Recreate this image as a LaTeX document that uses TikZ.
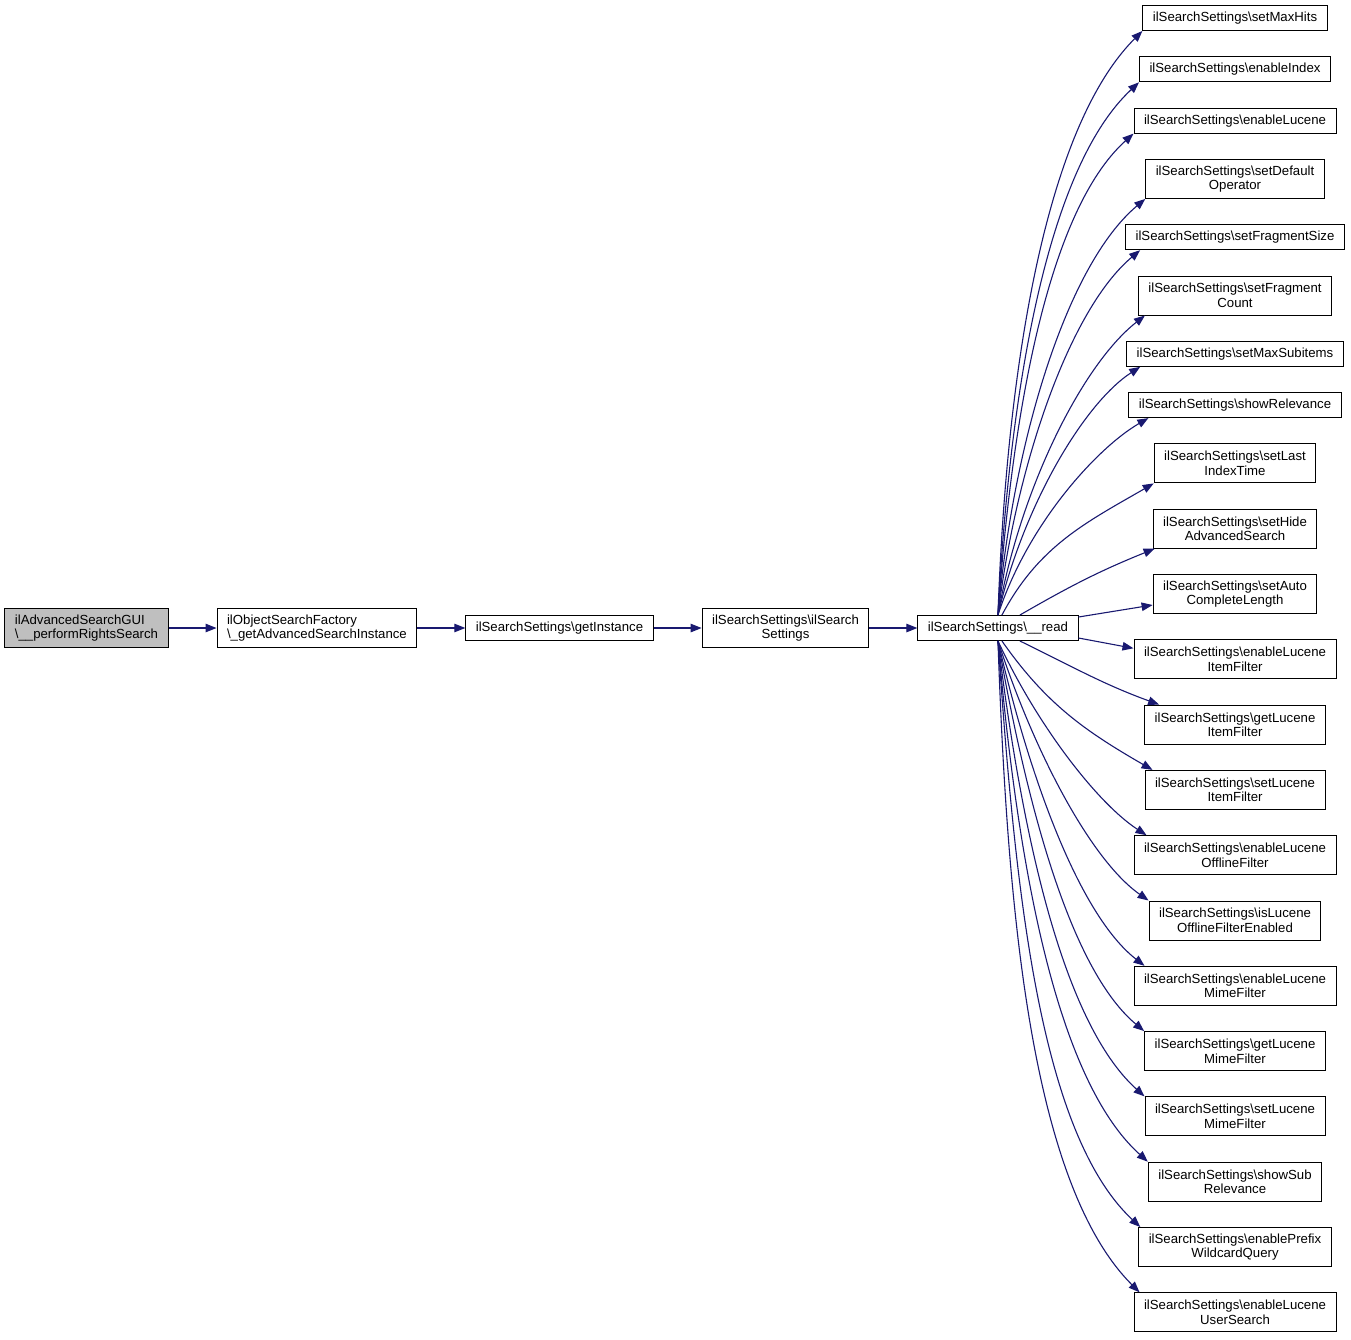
\documentclass[tikz,border=0pt]{standalone}
\usepackage{fontspec}
\setmainfont{Liberation Sans}
\usepackage{tikz}
\usetikzlibrary{positioning, arrows.meta}
\definecolor{callblue}{HTML}{191970}
\definecolor{rootgray}{HTML}{BFBFBF}

\begin{document}
\begin{tikzpicture}[x=1pt, y=1pt,
  fn/.style={rectangle, draw=black, line width=1pt, inner xsep=10pt,
    inner ysep=3pt, minimum height=25pt, align=center,
    font=\fontsize{13.2}{14.5}\selectfont},
  fntwo/.style={fn, minimum height=39pt},
  root/.style={fntwo, fill=rootgray, align=left},
  call/.style={-{Triangle[length=11pt, width=8.5pt]}, line width=1.1pt, draw=callblue}
]
  \useasboundingbox (0,0) rectangle (1351,-1339);

  % call chain
  \node[root] (n0) at (86.5,-628) {ilAdvancedSearchGUI\\\textbackslash\_\_performRightsSearch};
  \node[fntwo, align=left, right=48pt of n0] (n1) {ilObjectSearchFactory\\\textbackslash\_getAdvancedSearchInstance};
  \node[fn, right=48pt of n1] (n2) {ilSearchSettings\textbackslash getInstance};
  \node[fntwo, right=48pt of n2] (n3) {ilSearchSettings\textbackslash ilSearch\\Settings};
  \node[fn, right=48pt of n3] (n4) {ilSearchSettings\textbackslash\_\_read};

  % callees of __read
  \node[fn] (r1) at (1235,-18) {ilSearchSettings\textbackslash setMaxHits};
  \node[fn, below=25.3pt of r1] (r2) {ilSearchSettings\textbackslash enableIndex};
  \node[fn, below=25.3pt of r2] (r3) {ilSearchSettings\textbackslash enableLucene};
  \node[fntwo, below=25.3pt of r3] (r4) {ilSearchSettings\textbackslash setDefault\\Operator};
  \node[fn, below=25.3pt of r4] (r5) {ilSearchSettings\textbackslash setFragmentSize};
  \node[fntwo, below=25.3pt of r5] (r6) {ilSearchSettings\textbackslash setFragment\\Count};
  \node[fn, below=25.3pt of r6] (r7) {ilSearchSettings\textbackslash setMaxSubitems};
  \node[fn, below=25.3pt of r7] (r8) {ilSearchSettings\textbackslash showRelevance};
  \node[fntwo, below=25.3pt of r8] (r9) {ilSearchSettings\textbackslash setLast\\IndexTime};
  \node[fntwo, below=25.3pt of r9] (r10) {ilSearchSettings\textbackslash setHide\\AdvancedSearch};
  \node[fntwo, below=25.3pt of r10] (r11) {ilSearchSettings\textbackslash setAuto\\CompleteLength};
  \node[fntwo, below=25.3pt of r11] (r12) {ilSearchSettings\textbackslash enableLucene\\ItemFilter};
  \node[fntwo, below=25.3pt of r12] (r13) {ilSearchSettings\textbackslash getLucene\\ItemFilter};
  \node[fntwo, below=25.3pt of r13] (r14) {ilSearchSettings\textbackslash setLucene\\ItemFilter};
  \node[fntwo, below=25.3pt of r14] (r15) {ilSearchSettings\textbackslash enableLucene\\OfflineFilter};
  \node[fntwo, below=25.3pt of r15] (r16) {ilSearchSettings\textbackslash isLucene\\OfflineFilterEnabled};
  \node[fntwo, below=25.3pt of r16] (r17) {ilSearchSettings\textbackslash enableLucene\\MimeFilter};
  \node[fntwo, below=25.3pt of r17] (r18) {ilSearchSettings\textbackslash getLucene\\MimeFilter};
  \node[fntwo, below=25.3pt of r18] (r19) {ilSearchSettings\textbackslash setLucene\\MimeFilter};
  \node[fntwo, below=25.3pt of r19] (r20) {ilSearchSettings\textbackslash showSub\\Relevance};
  \node[fntwo, below=25.3pt of r20] (r21) {ilSearchSettings\textbackslash enablePrefix\\WildcardQuery};
  \node[fntwo, below=25.3pt of r21] (r22) {ilSearchSettings\textbackslash enableLucene\\UserSearch};

  \draw[call] (n0) -- (n1);
  \draw[call] (n1) -- (n2);
  \draw[call] (n2) -- (n3);
  \draw[call] (n3) -- (n4);

  % upper fan
  \draw[call] (n4.north) to[out=88, in=-135, in looseness=0.6] (r1.south west);
  \draw[call] (n4.north) to[out=87, in=-137, in looseness=0.6] (r2.south west);
  \draw[call] (n4.north) to[out=86, in=-138, in looseness=0.6] (r3.south west);
  \draw[call] (n4.north) to[out=85, in=-140, in looseness=0.6] (r4.south west);
  \draw[call] (n4.north) to[out=83, in=-140, in looseness=0.6] ([xshift=15pt]r5.south west);
  \draw[call] (n4.north) to[out=80, in=-142, in looseness=0.6] ([xshift=7pt]r6.south west);
  \draw[call] (n4.north) to[out=77, in=-147, in looseness=0.6] ([xshift=14pt]r7.south west);
  \draw[call] (n4.north) to[out=72, in=-150, in looseness=0.6] ([xshift=20pt]r8.south west);
  \draw[call] ([xshift=4pt]n4.north) to[out=62, in=-150] (r9.south west);
  \draw[call] ([xshift=22pt]n4.north) to[out=30, in=-158] ([xshift=2pt]r10.south west);
  \draw[call] ([yshift=11pt]n4.east) -- ([yshift=-11pt]r11.west);
  \draw[call] ([yshift=-10pt]n4.east) -- ([yshift=11pt]r12.west);
  % lower fan
  \draw[call] ([xshift=22pt]n4.south) to[out=-26, in=160] ([xshift=15pt]r13.north west);
  \draw[call] ([xshift=4pt]n4.south) to[out=-55, in=150] ([xshift=8pt]r14.north west);
  \draw[call] (n4.south) to[out=-65, in=147, in looseness=0.6] ([xshift=13pt]r15.north west);
  \draw[call] (n4.south) to[out=-72, in=145, in looseness=0.6] (r16.north west);
  \draw[call] (n4.south) to[out=-77, in=142, in looseness=0.6] ([xshift=11pt]r17.north west);
  \draw[call] (n4.south) to[out=-80, in=140, in looseness=0.6] (r18.north west);
  \draw[call] (n4.south) to[out=-83, in=138, in looseness=0.6] (r19.north west);
  \draw[call] (n4.south) to[out=-85, in=138, in looseness=0.6] (r20.north west);
  \draw[call] (n4.south) to[out=-86, in=137, in looseness=0.6] ([xshift=2pt]r21.north west);
  \draw[call] (n4.south) to[out=-88, in=135, in looseness=0.6] ([xshift=6pt]r22.north west);
\end{tikzpicture}
\end{document}
